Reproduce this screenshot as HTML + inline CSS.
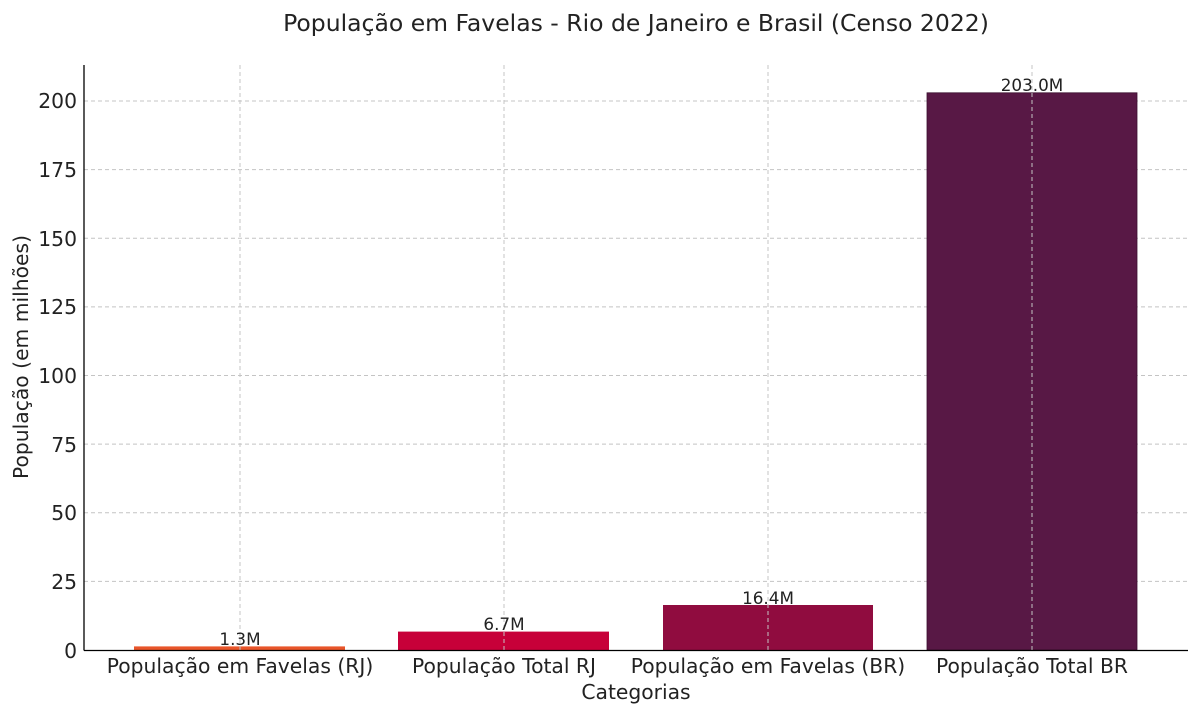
<!DOCTYPE html>
<html><head><meta charset="utf-8"><style>body{margin:0;background:#fff}svg{display:block}text{font-family:"DejaVu Sans","Liberation Sans",sans-serif;fill:#222}</style></head><body>
<svg width="1200" height="716" xmlns="http://www.w3.org/2000/svg">
<text x="636" y="31" font-size="23.5" text-anchor="middle">População em Favelas - Rio de Janeiro e Brasil (Censo 2022)</text>
<g stroke="#c4c4c4" stroke-width="1" stroke-dasharray="4,3">
<line x1="84" x2="1188" y1="581.4" y2="581.4"/><line x1="84" x2="1188" y1="512.8" y2="512.8"/><line x1="84" x2="1188" y1="444.1" y2="444.1"/><line x1="84" x2="1188" y1="375.5" y2="375.5"/><line x1="84" x2="1188" y1="306.9" y2="306.9"/><line x1="84" x2="1188" y1="238.3" y2="238.3"/><line x1="84" x2="1188" y1="169.6" y2="169.6"/><line x1="84" x2="1188" y1="101" y2="101"/>
</g>
<rect x="134" y="646.4" width="211" height="3.6" fill="#E8552A"/>
<rect x="398" y="631.6" width="211" height="18.4" fill="#C70039"/>
<rect x="663" y="605" width="210" height="45" fill="#900C3F"/>
<rect x="927" y="92.8" width="210" height="557.2" fill="#581845" stroke="#3a0e2e" stroke-width="0.8"/>
<g stroke="#c4c4c4" stroke-width="1" stroke-dasharray="4,3">
<line x1="240" x2="240" y1="65" y2="650"/><line x1="504" x2="504" y1="65" y2="650"/><line x1="768" x2="768" y1="65" y2="650"/><line x1="1032" x2="1032" y1="65" y2="650"/>
</g>
<g font-size="16.8" text-anchor="middle">
<text x="240" y="645">1.3M</text><text x="504" y="630">6.7M</text><text x="768" y="604">16.4M</text><text x="1032" y="91">203.0M</text>
</g>
<g stroke="#000" stroke-width="1.3"><line x1="84" y1="65" x2="84" y2="650.5"/><line x1="84" y1="650.5" x2="1188" y2="650.5"/></g>
<g font-size="20.3" text-anchor="end">
<text x="77" y="658">0</text><text x="77" y="589">25</text><text x="77" y="520">50</text><text x="77" y="452">75</text><text x="77" y="383">100</text><text x="77" y="314">125</text><text x="77" y="246">150</text><text x="77" y="177">175</text><text x="77" y="108">200</text>
</g>
<g font-size="20.3" text-anchor="middle">
<text x="240" y="673">População em Favelas (RJ)</text><text x="504" y="673">População Total RJ</text><text x="768" y="673">População em Favelas (BR)</text><text x="1032" y="673">População Total BR</text>
<text x="636" y="699">Categorias</text>
<text transform="translate(28,357) rotate(-90)">População (em milhões)</text>
</g>
</svg>
</body></html>
